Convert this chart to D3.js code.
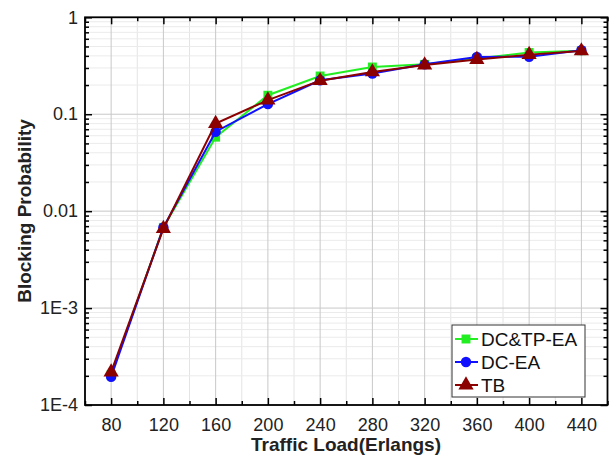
<!DOCTYPE html>
<html><head><meta charset="utf-8">
<script src="https://cdn.jsdelivr.net/npm/d3@7"></script>
<style>body{margin:0;background:#fff}svg{display:block}text{font-family:"Liberation Sans",Arial,sans-serif}</style>
</head><body><svg id="c" width="613" height="459"></svg>
<script>
const loads = [80,120,160,200,240,280,320,360,400,440];
const dctpea = [2.05e-4,0.0068,0.058,0.157,0.248,0.307,0.327,0.376,0.433,0.452];
const dcea   = [1.95e-4,0.0068,0.066,0.127,0.224,0.263,0.327,0.390,0.392,0.458];
const tb     = [2.19e-4,0.0066,0.080,0.140,0.222,0.273,0.322,0.366,0.412,0.450];
const seriesNames = ["DC&TP-EA","DC-EA","TB"];
const xTicks = [80,120,160,200,240,280,320,360,400,440];
const yTicks = [1e-4,1e-3,1e-2,1e-1,1];
const yTickLabels = ["1E-4","1E-3","0.01","0.1","1"];

const svg = d3.select("#c");
const L=85,R=607.5,T=17.3,B=405;
const x = d3.scaleLinear().domain([60,460]).range([L,R]);
const y = d3.scaleLog().domain([1e-4,1]).range([B,T]);

const xMinor = d3.range(60,461,20);
const yMinor = [];
for (let e=-4;e<0;e++) for (let m=2;m<=9;m++) yMinor.push(m*Math.pow(10,e));

const g = svg.append("g");
g.selectAll(".vgm").data(xMinor.filter(v=>!xTicks.includes(v))).join("line")
 .attr("x1",d=>x(d)).attr("x2",d=>x(d)).attr("y1",T).attr("y2",B)
 .attr("stroke","#e4e4e4").attr("stroke-width",1);
g.selectAll(".hgm").data(yMinor).join("line")
 .attr("y1",d=>y(d)).attr("y2",d=>y(d)).attr("x1",L).attr("x2",R)
 .attr("stroke","#ebebeb").attr("stroke-width",1);
g.selectAll(".vg").data(xTicks).join("line")
 .attr("x1",d=>x(d)).attr("x2",d=>x(d)).attr("y1",T).attr("y2",B)
 .attr("stroke","#c8c8c8").attr("stroke-width",1);
g.selectAll(".hg").data(yTicks).join("line")
 .attr("y1",d=>y(d)).attr("y2",d=>y(d)).attr("x1",L).attr("x2",R)
 .attr("stroke","#c8c8c8").attr("stroke-width",1);

const ax = (sel, axis) => sel.call(axis).call(s=>s.select(".domain").remove())
  .call(s=>s.selectAll("line").attr("stroke","#000").attr("stroke-width",1.5));
const xMinorOnly = xMinor.filter(v=>!xTicks.includes(v));
const xMaj = d3.axisBottom(x).tickValues(xTicks).tickSize(-7).tickPadding(13).tickFormat(d3.format("d"));
ax(svg.append("g").attr("transform",`translate(0,${B})`), xMaj)
  .selectAll("text").attr("font-size",18).attr("fill","#222");
ax(svg.append("g").attr("transform",`translate(0,${B})`), d3.axisBottom(x).tickValues(xMinorOnly).tickSize(-4).tickFormat(""));
ax(svg.append("g").attr("transform",`translate(0,${T})`), d3.axisTop(x).tickValues(xTicks).tickSize(-7).tickFormat(""));
ax(svg.append("g").attr("transform",`translate(0,${T})`), d3.axisTop(x).tickValues(xMinorOnly).tickSize(-4).tickFormat(""));

const yMaj = d3.axisLeft(y).tickValues(yTicks).tickSize(-7).tickPadding(7).tickFormat((d,i)=>yTickLabels[i]);
ax(svg.append("g").attr("transform",`translate(${L},0)`), yMaj)
  .selectAll("text").attr("font-size",18).attr("fill","#222");
ax(svg.append("g").attr("transform",`translate(${L},0)`), d3.axisLeft(y).tickValues(yMinor).tickSize(-4).tickFormat(""));
ax(svg.append("g").attr("transform",`translate(${R},0)`), d3.axisRight(y).tickValues(yTicks).tickSize(-7).tickFormat(""));
ax(svg.append("g").attr("transform",`translate(${R},0)`), d3.axisRight(y).tickValues(yMinor).tickSize(-4).tickFormat(""));

svg.append("rect").attr("x",L).attr("y",T).attr("width",R-L).attr("height",B-T)
 .attr("fill","none").attr("stroke","#000").attr("stroke-width",1.8);

const colors = ["#22ee22","#1010ff","#8b0000"];
const shapes = [d3.symbolSquare,d3.symbolCircle,d3.symbolTriangle];
const sizes = [80,85,100];
const data = [dctpea,dcea,tb];
const line = d3.line().x((d,i)=>x(loads[i])).y(d=>y(d));
data.forEach((vals,k)=>{
  svg.append("path").datum(vals).attr("d",line).attr("fill","none")
    .attr("stroke",colors[k]).attr("stroke-width",2);
  svg.selectAll(null).data(vals).join("path")
    .attr("transform",(d,i)=>`translate(${x(loads[i])},${y(d)})`)
    .attr("d",d3.symbol().type(shapes[k]).size(sizes[k])).attr("fill",colors[k]);
});

const lg = svg.append("g");
lg.append("rect").attr("x",452).attr("y",325).attr("width",133).attr("height",72)
  .attr("fill","#fff").attr("stroke","#333").attr("stroke-width",1);
seriesNames.forEach((n,k)=>{
  const cy = 339 + k*23;
  lg.append("line").attr("x1",455).attr("x2",478).attr("y1",cy).attr("y2",cy)
    .attr("stroke",colors[k]).attr("stroke-width",2);
  lg.append("path").attr("transform",`translate(466,${cy})`)
    .attr("d",d3.symbol().type(shapes[k]).size(sizes[k])).attr("fill",colors[k]);
  lg.append("text").attr("x",481).attr("y",cy+7).attr("font-size",19).attr("fill","#111").text(n);
});

svg.append("text").attr("x",346).attr("y",451).attr("text-anchor","middle")
  .attr("font-size",19).attr("font-weight","bold").attr("fill","#222").text("Traffic Load(Erlangs)");
svg.append("text").attr("transform","translate(31,211) rotate(-90)").attr("text-anchor","middle")
  .attr("font-size",19).attr("font-weight","bold").attr("fill","#222").text("Blocking Probability");
</script></body></html>
